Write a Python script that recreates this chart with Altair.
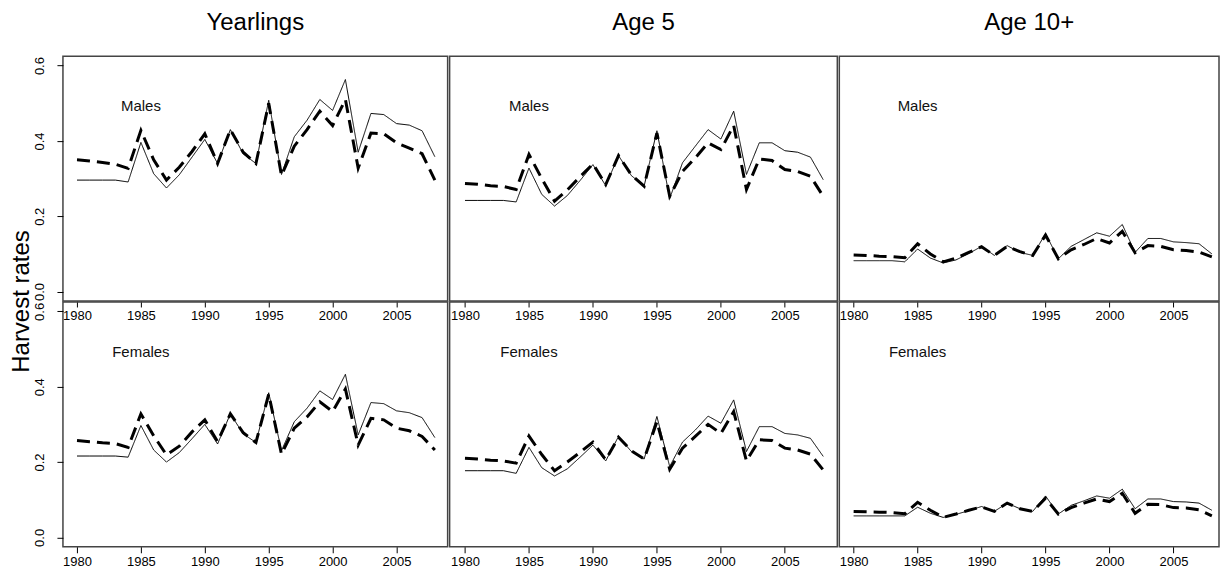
import altair as alt
import pandas as pd

years = list(range(1980, 2009))

col_titles = ["Yearlings", "Age 5", "Age 10+"]
row_labels = ["Males", "Females"]
series_names = ["solid", "dashed"]

yr_m_solid = [0.296, 0.296, 0.296, 0.296, 0.291, 0.396, 0.313, 0.275, 0.310, 0.357, 0.404, 0.340, 0.430, 0.366, 0.340, 0.508, 0.311, 0.411, 0.455, 0.510, 0.481, 0.563, 0.370, 0.473, 0.470, 0.446, 0.442, 0.427, 0.358]
yr_m_dash = [0.350, 0.347, 0.343, 0.338, 0.327, 0.428, 0.350, 0.296, 0.330, 0.372, 0.419, 0.340, 0.430, 0.370, 0.340, 0.500, 0.308, 0.386, 0.430, 0.479, 0.441, 0.510, 0.328, 0.421, 0.419, 0.395, 0.381, 0.366, 0.296]
yr_f_solid = [0.216, 0.216, 0.216, 0.216, 0.213, 0.297, 0.232, 0.200, 0.225, 0.262, 0.300, 0.248, 0.328, 0.275, 0.252, 0.384, 0.230, 0.307, 0.343, 0.389, 0.366, 0.433, 0.272, 0.358, 0.355, 0.336, 0.331, 0.318, 0.265]
yr_f_dash = [0.257, 0.254, 0.251, 0.249, 0.239, 0.328, 0.270, 0.219, 0.242, 0.280, 0.312, 0.254, 0.328, 0.278, 0.252, 0.380, 0.221, 0.290, 0.320, 0.360, 0.334, 0.394, 0.245, 0.316, 0.312, 0.290, 0.283, 0.268, 0.232]

a5_m_solid = [0.242, 0.242, 0.242, 0.242, 0.238, 0.328, 0.258, 0.227, 0.255, 0.295, 0.337, 0.281, 0.361, 0.308, 0.280, 0.427, 0.247, 0.342, 0.386, 0.430, 0.405, 0.479, 0.311, 0.395, 0.395, 0.374, 0.370, 0.357, 0.297]
a5_m_dash = [0.287, 0.285, 0.281, 0.279, 0.271, 0.364, 0.300, 0.240, 0.270, 0.305, 0.339, 0.284, 0.361, 0.310, 0.280, 0.421, 0.253, 0.319, 0.355, 0.395, 0.377, 0.441, 0.271, 0.352, 0.348, 0.324, 0.319, 0.306, 0.253]
a5_f_solid = [0.177, 0.177, 0.177, 0.177, 0.170, 0.239, 0.185, 0.163, 0.182, 0.213, 0.245, 0.203, 0.268, 0.228, 0.208, 0.321, 0.188, 0.253, 0.285, 0.322, 0.303, 0.365, 0.228, 0.294, 0.294, 0.276, 0.272, 0.263, 0.215]
a5_f_dash = [0.210, 0.208, 0.205, 0.203, 0.197, 0.269, 0.220, 0.177, 0.200, 0.226, 0.253, 0.206, 0.266, 0.230, 0.208, 0.307, 0.181, 0.237, 0.268, 0.300, 0.276, 0.334, 0.203, 0.259, 0.257, 0.237, 0.232, 0.221, 0.179]

a10_m_solid = [0.082, 0.082, 0.082, 0.082, 0.079, 0.113, 0.089, 0.076, 0.084, 0.101, 0.120, 0.096, 0.122, 0.104, 0.096, 0.154, 0.087, 0.120, 0.138, 0.156, 0.147, 0.178, 0.104, 0.141, 0.141, 0.132, 0.130, 0.127, 0.100]
a10_m_dash = [0.097, 0.096, 0.094, 0.093, 0.090, 0.127, 0.100, 0.079, 0.089, 0.104, 0.119, 0.096, 0.120, 0.106, 0.096, 0.150, 0.087, 0.111, 0.125, 0.141, 0.129, 0.160, 0.103, 0.122, 0.120, 0.111, 0.109, 0.105, 0.092]
a10_f_solid = [0.057, 0.057, 0.057, 0.057, 0.057, 0.080, 0.064, 0.053, 0.061, 0.071, 0.082, 0.069, 0.091, 0.076, 0.069, 0.110, 0.062, 0.085, 0.097, 0.110, 0.104, 0.128, 0.076, 0.102, 0.102, 0.095, 0.094, 0.091, 0.072]
a10_f_dash = [0.069, 0.068, 0.067, 0.066, 0.063, 0.093, 0.072, 0.053, 0.062, 0.072, 0.081, 0.069, 0.091, 0.076, 0.069, 0.104, 0.062, 0.079, 0.091, 0.102, 0.095, 0.117, 0.064, 0.088, 0.087, 0.079, 0.078, 0.073, 0.057]

x_ticks = [1980, 1985, 1990, 1995, 2000, 2005]
y_ticks = [0.0, 0.2, 0.4, 0.6]
label_year = [1985]
label_value = [0.492]

panel_data = [
    [(yr_m_solid, yr_m_dash), (a5_m_solid, a5_m_dash), (a10_m_solid, a10_m_dash)],
    [(yr_f_solid, yr_f_dash), (a5_f_solid, a5_f_dash), (a10_f_solid, a10_f_dash)],
]

FONT = "Liberation Sans"
col_widths = [385, 388, 380]
col_xdomains = [[1978.9, 2009.0], [1978.8, 2009.1], [1978.88, 2008.56]]
panel_height = 245
y_domain = [-0.025, 0.625]


def make_panel(r, c):
    solid, dash = panel_data[r][c]
    df = pd.DataFrame({
        "year": years + years,
        "value": solid + dash,
        "series": [series_names[0]] * len(years) + [series_names[1]] * len(years),
    })
    xaxis = alt.Axis(values=x_ticks, format="d", title=None, tickSize=6,
                     labelPadding=3, labelFlush=False, grid=False, domain=False,
                     labelFont=FONT, labelFontSize=13, labelColor="black",
                     tickColor="black", tickWidth=1)
    if c == 0:
        kw = dict(values=y_ticks, format=".1f", labelAngle=270, labelAlign="center",
                  labelBaseline="alphabetic", tickSize=6, labelPadding=13,
                  grid=False, domain=False, labelFont=FONT, labelFontSize=13,
                  labelColor="black", tickColor="black", tickWidth=1)
        if r == 0:
            yaxis = alt.Axis(title="Harvest rates", titleFontSize=24, titleFont=FONT,
                             titleFontWeight="normal", titleAngle=270, titleX=-34,
                             titleY=panel_height, titleAlign="center",
                             titleBaseline="alphabetic", titleColor="black", **kw)
        else:
            yaxis = alt.Axis(title=None, **kw)
    else:
        yaxis = None
    xs = alt.Scale(domain=col_xdomains[c], nice=False, zero=False)
    ys = alt.Scale(domain=y_domain, nice=False, zero=False)
    lines = alt.Chart(df).mark_line(color="black", strokeCap="butt").encode(
        x=alt.X("year:Q", scale=xs, axis=xaxis),
        y=alt.Y("value:Q", scale=ys, axis=yaxis),
        strokeDash=alt.StrokeDash("series:N", scale=alt.Scale(domain=series_names, range=[[1, 0], [13, 7]]), legend=None),
        strokeWidth=alt.StrokeWidth("series:N", scale=alt.Scale(domain=series_names, range=[1, 3]), legend=None),
    )
    lab = pd.DataFrame({"year": label_year, "value": label_value, "label": [row_labels[r]]})
    text = alt.Chart(lab).mark_text(font=FONT, fontSize=15, align="center", baseline="middle", color="#111").encode(
        x=alt.X("year:Q", scale=xs),
        y=alt.Y("value:Q", scale=ys),
        text="label:N",
    )
    props = dict(width=col_widths[c], height=panel_height)
    if r == 0:
        props["title"] = alt.TitleParams(col_titles[c], fontSize=24, font=FONT, fontWeight="normal",
                                         anchor="middle", baseline="alphabetic", offset=2, color="black")
    return alt.layer(lines, text).properties(**props)


panels = [make_panel(r, c) for r in range(2) for c in range(3)]

chart = alt.concat(*panels, columns=3, spacing=alt.RowColnumber(row=1, column=2), bounds="flush").properties(
    padding={"left": 9, "top": 10, "right": 0, "bottom": 0},
    background="white",
).configure_view(
    stroke="#444", strokeWidth=1.5
).configure_axis(
    grid=False, domain=False
)

chart.save("out.html", embed_options={"renderer": "svg", "actions": False})
